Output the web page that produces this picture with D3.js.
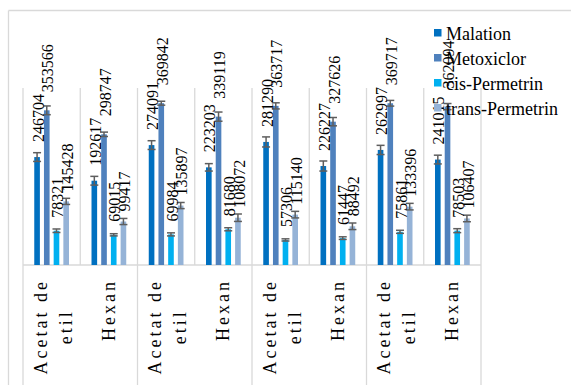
<!DOCTYPE html>
<html><head><meta charset="utf-8">
<script src="https://cdn.jsdelivr.net/npm/d3@7"></script>
<style>
html,body{margin:0;padding:0;background:#fff;}
svg{display:block;}
</style></head>
<body>
<svg id="chart" width="571" height="385"></svg>
<script>
const categories = ["Acetat de etil","Hexan","Acetat de etil","Hexan","Acetat de etil","Hexan","Acetat de etil","Hexan"];
const seriesNames = ["Malation","Metoxiclor","cis-Permetrin","trans-Permetrin"];
const malation = [246704,192617,274091,223203,281290,226227,262997,241015];
const metoxiclor = [353566,298747,369842,339119,363717,327626,369717,362094];
const cisPermetrin = [78321,69015,69984,81680,57306,61447,75861,78503];
const transPermetrin = [145428,99417,135897,108072,115140,88492,133396,106407];
const malationErr = [10000,10000,10000,8500,11500,11500,10500,10000];
const metoxiclorErr = [10000,5000,4500,10500,7000,9500,6500,7000];
const cisPermetrinErr = [4000,2500,3500,3500,2500,3000,3500,4500];
const transPermetrinErr = [7000,7000,7000,8500,7500,7500,7500,7500];

const seriesValues = [malation, metoxiclor, cisPermetrin, transPermetrin];
const seriesErrors = [malationErr, metoxiclorErr, cisPermetrinErr, transPermetrinErr];
const colors = ["#0070C0","#4F81BD","#00B0F0","#95B3D7"];
const labelGap = [15,18,13,10];
const serif = '"Liberation Serif"';
const grid = "#D9D9D9";

const svg = d3.select("#chart");
const plotLeft = 23, plotRight = 481, plotBase = 265, plotTop = 90;

const x0 = d3.scaleBand().domain(d3.range(categories.length)).range([plotLeft, plotRight]).padding(0);
const x1 = d3.scaleBand().domain(d3.range(seriesNames.length)).range([0, x0.bandwidth()])
  .paddingInner(0.42).paddingOuter(1.16);
const y = d3.scaleLinear().domain([0, 400000]).range([plotBase, plotTop]);

// outer chart border
svg.append("line").attr("x1",8.5).attr("x2",571).attr("y1",10.5).attr("y2",10.5).attr("stroke",grid).attr("stroke-width",1.3);
svg.append("line").attr("x1",8.5).attr("x2",8.5).attr("y1",10.5).attr("y2",385).attr("stroke",grid).attr("stroke-width",1.3);

// category gridlines in plot
const bounds = d3.range(categories.length + 1).map(i => i < categories.length ? x0(i) : plotRight);
svg.append("g").selectAll("line").data(bounds).join("line")
  .attr("x1", d => d).attr("x2", d => d)
  .attr("y1", plotTop - 2).attr("y2", plotBase)
  .attr("stroke", grid).attr("stroke-width", 1.3);
svg.append("line").attr("x1",plotLeft).attr("x2",plotRight).attr("y1",plotBase).attr("y2",plotBase).attr("stroke",grid).attr("stroke-width",1.3);
svg.append("g").selectAll("line").data(bounds.filter((d,i)=> i % 2 === 0)).join("line")
  .attr("x1", d => d).attr("x2", d => d)
  .attr("y1", plotBase).attr("y2", 385)
  .attr("stroke", grid).attr("stroke-width", 1.3);

// bars
const barData = [];
seriesValues.forEach((vals, s) => vals.forEach((v, c) => barData.push({s, c, v, e: seriesErrors[s][c]})));
const bx = d => x0(d.c) + x1(d.s);
const bw = x1.bandwidth();

svg.append("g").selectAll("rect").data(barData).join("rect")
  .attr("x", bx).attr("width", bw)
  .attr("y", d => y(d.v)).attr("height", d => plotBase - y(d.v))
  .attr("fill", d => colors[d.s]);

// error bars
const eg = svg.append("g").attr("stroke","#5E5E5E").attr("stroke-width",1.5).attr("fill","none");
barData.forEach(d => {
  const cx = bx(d) + bw/2;
  eg.append("line").attr("x1",cx).attr("x2",cx).attr("y1",y(d.v+d.e)).attr("y2",y(d.v-d.e));
  eg.append("line").attr("x1",cx-4).attr("x2",cx+4).attr("y1",y(d.v+d.e)).attr("y2",y(d.v+d.e));
  eg.append("line").attr("x1",cx-4).attr("x2",cx+4).attr("y1",y(d.v-d.e)).attr("y2",y(d.v-d.e));
});

// value labels
svg.append("g").selectAll("text").data(barData).join("text")
  .attr("transform", d => `translate(${bx(d)+bw/2+1},${y(d.v)-labelGap[d.s]}) rotate(-90)`)
  .attr("dy","0.35em")
  .style("font-family", serif).style("font-size","16px").attr("fill","#000")
  .text(d => d.v);

// category labels
const cg = svg.append("g");
categories.forEach((cat, i) => {
  const lines = cat === "Acetat de etil" ? ["Acetat de","etil"] : [cat];
  const cx = x0(i) + x0.bandwidth()/2;
  const g = cg.append("g");
  const texts = lines.map((ln, k) => g.append("text")
    .style("font-family", serif).style("font-size","18px").attr("fill","#000")
    .style("letter-spacing","3px")
    .attr("text-anchor","middle")
    .attr("x", 1.5)
    .attr("y", 6 + (k - (lines.length-1)/2)*25 + (lines.length>1?1.5:0))
    .text(ln));
  const maxLen = d3.max(texts, t => t.node().getComputedTextLength()) - 3;
  g.attr("transform", `translate(${cx},${282 + maxLen/2}) rotate(-90)`);
});

// legend
const lg = svg.append("g");
seriesNames.forEach((n, i) => {
  const by = 39.5 + i*25;
  lg.append("rect").attr("x",434).attr("y",by-10.5).attr("width",7.5).attr("height",7.5).attr("fill",colors[i]);
  lg.append("text").attr("x",446).attr("y",by).style("font-family", serif).style("font-size","18px").attr("fill","#000").text(n);
});
</script>
</body></html>
